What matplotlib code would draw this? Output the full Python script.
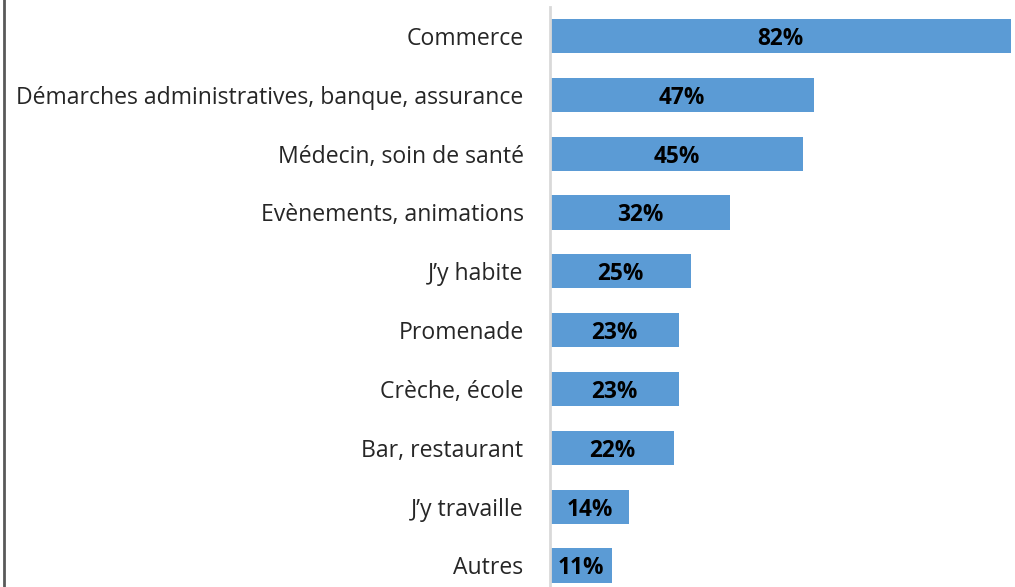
import matplotlib.pyplot as plt
from matplotlib.lines import Line2D

categories = ["Commerce", "Démarches administratives, banque, assurance",
              "Médecin, soin de santé", "Evènements, animations", "J\u2019y habite",
              "Promenade", "Crèche, école", "Bar, restaurant", "J\u2019y travaille", "Autres"]
values = [82, 47, 45, 32, 25, 23, 23, 22, 14, 11]
value_labels = ["82%", "47%", "45%", "32%", "25%", "23%", "23%", "22%", "14%", "11%"]

plt.rcParams['font.family'] = ['Open Sans', 'DejaVu Sans']

fig = plt.figure(figsize=(10.15, 5.87), dpi=100)
ax = fig.add_axes([550 / 1015, 0, 461 / 1015, 1])

pos = list(range(len(categories)))
ax.barh(pos, values, height=0.58, color='#5B9BD5', edgecolor='none')

for p, v, lab in zip(pos, values, value_labels):
    ax.text(v / 2, p, lab, ha='center', va='center_baseline', fontsize=16.3,
            fontweight='bold', color='black')

ax.set_xlim(0, 82)
ax.set_ylim(9.366, -0.612)
ax.set_yticks(pos)
ax.set_yticklabels(categories, fontsize=16.6, color='#262626')
ax.tick_params(axis='y', length=0, pad=19)
ax.set_xticks([])

for s in ['top', 'right', 'bottom']:
    ax.spines[s].set_visible(False)
ax.spines['left'].set_color('#d9d9d9')
ax.spines['left'].set_linewidth(2)
ax.spines['left'].set_bounds(-0.49, 9.37)

# left frame border
fig.add_artist(Line2D([4 / 1015, 4 / 1015], [0, 1], transform=fig.transFigure,
                      color='#595959', linewidth=2))

fig.savefig('out.png', dpi=100)
